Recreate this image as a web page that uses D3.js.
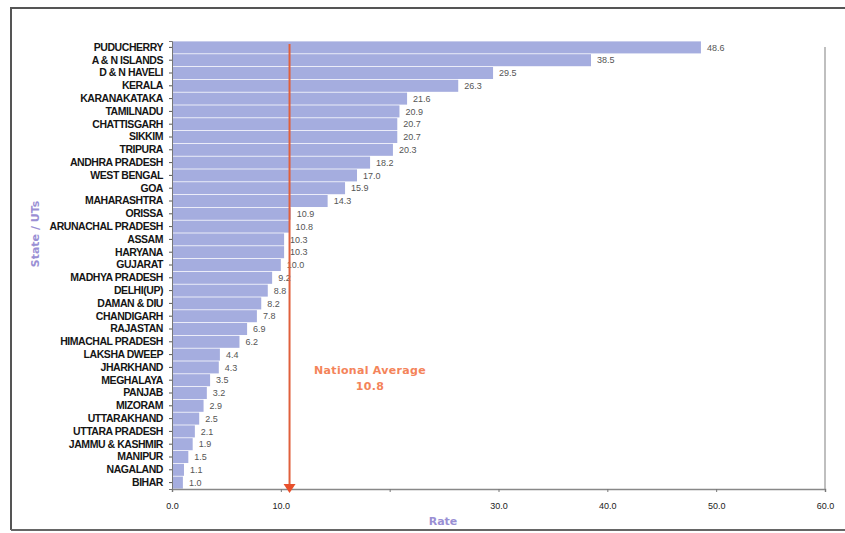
<!DOCTYPE html>
<html>
<head>
<meta charset="utf-8">
<script src="https://cdn.jsdelivr.net/npm/d3@7"></script>
<style>
  html, body { margin: 0; padding: 0; background: #ffffff; }
  svg { display: block; }
</style>
</head>
<body>
<svg id="chart" width="845" height="533"></svg>
<script>
// ---- data ----
const states = [
  "PUDUCHERRY", "A & N ISLANDS", "D & N HAVELI", "KERALA", "KARANAKATAKA",
  "TAMILNADU", "CHATTISGARH", "SIKKIM", "TRIPURA", "ANDHRA PRADESH",
  "WEST BENGAL", "GOA", "MAHARASHTRA", "ORISSA", "ARUNACHAL PRADESH",
  "ASSAM", "HARYANA", "GUJARAT", "MADHYA PRADESH", "DELHI(UP)",
  "DAMAN & DIU", "CHANDIGARH", "RAJASTAN", "HIMACHAL PRADESH", "LAKSHA DWEEP",
  "JHARKHAND", "MEGHALAYA", "PANJAB", "MIZORAM", "UTTARAKHAND",
  "UTTARA PRADESH", "JAMMU & KASHMIR", "MANIPUR", "NAGALAND", "BIHAR"
];
const rates = [
  48.6, 38.5, 29.5, 26.3, 21.6,
  20.9, 20.7, 20.7, 20.3, 18.2,
  17.0, 15.9, 14.3, 10.9, 10.8,
  10.3, 10.3, 10.0, 9.2, 8.8,
  8.2, 7.8, 6.9, 6.2, 4.4,
  4.3, 3.5, 3.2, 2.9, 2.5,
  2.1, 1.9, 1.5, 1.1, 1.0
];
const xTickValues = [0, 10, 30, 40, 50, 60];
const xTickLabels = ["0.0", "10.0", "30.0", "40.0", "50.0", "60.0"];
const nationalAverage = 10.8;
const nationalAverageLabel = ["National Average", "10.8"];
const xTitle = "Rate";
const yTitle = "State / UTs";

// ---- drawing ----
const svg = d3.select("#chart");
const W = 845, H = 533;
const plot = { left: 172, right: 825, top: 41, bottom: 489 };

const x = d3.scaleLinear().domain([0, 60]).range([plot.left, plot.right]);
const y = d3.scaleBand().domain(states).range([plot.top, plot.bottom]).paddingInner(0.06).paddingOuter(0.03);

const labelFont = "'Liberation Sans', Arial, sans-serif";

// outer frame
svg.append("path")
  .attr("d", `M11,${H - 3} L11,8 L${W},8`)
  .attr("fill", "none").attr("stroke", "#555").attr("stroke-width", 2);
svg.append("line")
  .attr("x1", 11).attr("x2", W).attr("y1", 530).attr("y2", 530)
  .attr("stroke", "#666").attr("stroke-width", 2);

// right plot edge
svg.append("line")
  .attr("x1", plot.right).attr("x2", plot.right)
  .attr("y1", 47).attr("y2", plot.bottom)
  .attr("stroke", "#aaa").attr("stroke-width", 1.5);

// bars
svg.append("g").selectAll("rect")
  .data(states)
  .join("rect")
  .attr("x", x(0))
  .attr("y", d => y(d))
  .attr("width", (d, i) => x(rates[i]) - x(0))
  .attr("height", y.bandwidth())
  .attr("fill", "#a5addf");

// value labels
svg.append("g").selectAll("text")
  .data(states)
  .join("text")
  .attr("x", (d, i) => x(rates[i]) + 6)
  .attr("y", d => y(d) + y.bandwidth() / 2)
  .attr("dy", "0.35em")
  .attr("font-family", labelFont)
  .attr("font-size", 9)
  .attr("fill", "#555")
  .text((d, i) => d3.format(".1f")(rates[i]));

// x axis
const xAxis = d3.axisBottom(x)
  .tickValues(d3.range(0, 61, 10))
  .tickSize(3)
  .tickFormat(v => {
    const k = xTickValues.indexOf(v);
    return k >= 0 ? xTickLabels[k] : "";
  });
const gx = svg.append("g").attr("transform", `translate(0,${plot.bottom})`).call(xAxis);
gx.select(".domain").attr("stroke", "#888").attr("stroke-width", 1.5);
gx.selectAll(".tick line").attr("stroke", "#777");
gx.selectAll(".tick text")
  .attr("font-family", labelFont).attr("font-size", 9).attr("fill", "#222")
  .attr("dy", "1.5em");

// y axis
const yAxis = d3.axisLeft(y).tickSize(3).tickPadding(6);
const gy = svg.append("g").attr("transform", `translate(${plot.left},0)`).call(yAxis);
gy.select(".domain").attr("stroke", "#777");
gy.selectAll(".tick line").attr("stroke", "#555");
gy.selectAll(".tick text")
  .attr("font-family", labelFont).attr("font-size", 10.5).attr("font-weight", "bold")
  .attr("letter-spacing", "-0.45px").attr("fill", "#151515");

// national average line
const xa = x(nationalAverage);
svg.append("line")
  .attr("x1", xa).attr("x2", xa)
  .attr("y1", plot.top + 3).attr("y2", plot.bottom - 2)
  .attr("stroke", "#e0603c").attr("stroke-width", 2);
svg.append("path")
  .attr("d", `M${xa - 6},${plot.bottom - 5} L${xa + 6},${plot.bottom - 5} L${xa},${plot.bottom + 4} Z`)
  .attr("fill", "#e8502c");

const na = svg.append("text")
  .attr("x", 370).attr("y", 374)
  .attr("text-anchor", "middle")
  .attr("font-family", "'DejaVu Sans', sans-serif")
  .attr("font-size", 11).attr("font-weight", "bold").attr("letter-spacing", "0.3px")
  .attr("fill", "#f4845a");
na.append("tspan").attr("x", 370).attr("dy", 0).text(nationalAverageLabel[0]);
na.append("tspan").attr("x", 370).attr("dy", 16).text(nationalAverageLabel[1]);

// axis titles
svg.append("text")
  .attr("x", 443).attr("y", 525)
  .attr("text-anchor", "middle")
  .attr("font-family", "'DejaVu Sans', sans-serif").attr("font-weight", "bold")
  .attr("font-size", 11).attr("fill", "#9a8fd4")
  .text(xTitle);
svg.append("text")
  .attr("transform", "translate(39,234) rotate(-90)")
  .attr("text-anchor", "middle")
  .attr("font-family", "'DejaVu Sans', sans-serif").attr("font-weight", "bold")
  .attr("font-size", 11).attr("fill", "#9a8fd4")
  .text(yTitle);
</script>
</body>
</html>
